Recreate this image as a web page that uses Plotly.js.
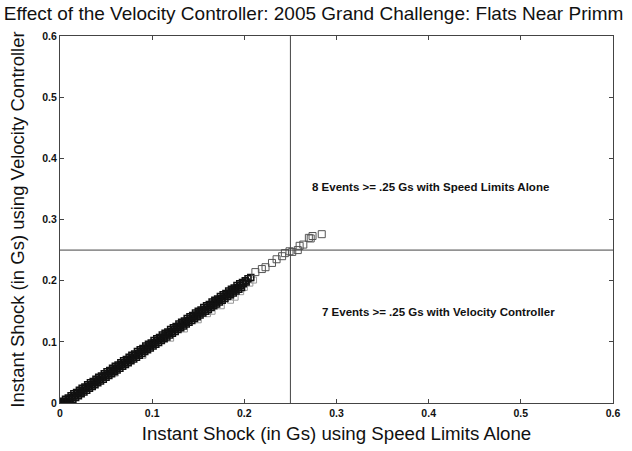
<!DOCTYPE html>
<html>
<head>
<meta charset="utf-8">
<script src="https://cdn.plot.ly/plotly-3.0.1.min.js"></script>
<style>html,body{margin:0;padding:0;background:#fff;}#chart{width:632px;height:451px;}</style>
</head>
<body>
<div id="chart"></div>
<script>
// Dense band of events: upper edge (controller ~= speed limits alone)
const bandAX = [0.000,0.003,0.006,0.009,0.012,0.015,0.018,0.021,0.024,0.027,0.030,0.033,0.036,0.039,0.042,0.045,0.048,0.051,0.054,0.057,0.060,0.063,0.066,0.069,0.072,0.075,0.078,0.081,0.084,0.087,0.090,0.093,0.096,0.099,0.102,0.105,0.108,0.111,0.114,0.117,0.120,0.123,0.126,0.129,0.132,0.135,0.138,0.141,0.144,0.147,0.150,0.153,0.156,0.159,0.162,0.165,0.168,0.171,0.174,0.177,0.180,0.183,0.186,0.189,0.192,0.195,0.198,0.201,0.204,0.207];
const bandAY = [0.000,0.003,0.006,0.008,0.012,0.015,0.017,0.021,0.024,0.026,0.030,0.033,0.035,0.039,0.042,0.044,0.048,0.051,0.053,0.057,0.060,0.062,0.066,0.069,0.071,0.075,0.078,0.080,0.084,0.087,0.089,0.093,0.096,0.098,0.102,0.105,0.107,0.111,0.114,0.116,0.120,0.123,0.125,0.129,0.132,0.134,0.138,0.141,0.143,0.147,0.150,0.152,0.156,0.159,0.161,0.165,0.168,0.170,0.174,0.177,0.179,0.183,0.186,0.188,0.192,0.195,0.197,0.200,0.203,0.205];
// Middle of the band
const bandBX = [0.001,0.004,0.007,0.010,0.013,0.016,0.019,0.022,0.025,0.028,0.031,0.034,0.037,0.040,0.043,0.046,0.049,0.052,0.055,0.058,0.061,0.064,0.067,0.070,0.073,0.076,0.079,0.082,0.085,0.088,0.091,0.094,0.097,0.100,0.103,0.106,0.109,0.112,0.115,0.118,0.121,0.124,0.127,0.130,0.133,0.136,0.139,0.142,0.145,0.148,0.151,0.154,0.157,0.160,0.163,0.166,0.169,0.172,0.175,0.178,0.181,0.184,0.187,0.190,0.193,0.196,0.199,0.202];
const bandBY = [0.000,0.000,0.003,0.006,0.009,0.012,0.015,0.018,0.021,0.024,0.027,0.030,0.033,0.036,0.039,0.042,0.045,0.048,0.051,0.054,0.057,0.060,0.063,0.066,0.069,0.072,0.075,0.078,0.081,0.084,0.087,0.090,0.093,0.096,0.099,0.102,0.105,0.108,0.111,0.114,0.117,0.120,0.123,0.126,0.129,0.132,0.135,0.138,0.141,0.144,0.147,0.150,0.153,0.156,0.159,0.162,0.165,0.168,0.171,0.174,0.177,0.180,0.183,0.186,0.189,0.192,0.195,0.198];
// Lower edge of the band
const bandCX = [0.002,0.005,0.008,0.011,0.014,0.017,0.020,0.023,0.026,0.029,0.032,0.035,0.038,0.041,0.044,0.047,0.050,0.053,0.056,0.059,0.062,0.065,0.068,0.071,0.074,0.077,0.080,0.083,0.086,0.089,0.092,0.095,0.098,0.101,0.104,0.107,0.110,0.113,0.116,0.119,0.122,0.125,0.128,0.131,0.134,0.137,0.140,0.143,0.146,0.149,0.152,0.155,0.158,0.161,0.164,0.167,0.170,0.173,0.176,0.179,0.182,0.185,0.188,0.191,0.194,0.197];
const bandCY = [0.000,0.000,0.000,0.003,0.006,0.009,0.012,0.015,0.018,0.021,0.024,0.027,0.030,0.033,0.036,0.039,0.042,0.045,0.048,0.051,0.054,0.057,0.060,0.063,0.066,0.069,0.072,0.075,0.078,0.081,0.084,0.087,0.090,0.093,0.096,0.099,0.102,0.105,0.108,0.111,0.114,0.117,0.120,0.123,0.126,0.129,0.132,0.135,0.138,0.141,0.144,0.147,0.150,0.153,0.156,0.159,0.162,0.165,0.168,0.171,0.174,0.177,0.180,0.183,0.186,0.189];
// Lighter fringe below the band
const fringeX = [0.060,0.090,0.120,0.135,0.150,0.160,0.165,0.175,0.185,0.190,0.196,0.200,0.206,0.210];
const fringeY = [0.049,0.078,0.106,0.121,0.136,0.146,0.150,0.159,0.168,0.173,0.182,0.189,0.196,0.201];
// Sparse high-shock events
const topX = [0.212,0.219,0.223,0.230,0.235,0.241,0.244,0.249,0.252,0.258,0.260,0.264,0.270,0.272,0.274,0.284];
const topY = [0.214,0.219,0.222,0.229,0.235,0.240,0.245,0.248,0.247,0.250,0.257,0.259,0.270,0.269,0.273,0.276];

const xTicks = [0,0.1,0.2,0.3,0.4,0.5,0.6];
const xTickText = ['0','0.1','0.2','0.3','0.4','0.5','0.6'];
const yTicks = [0,0.1,0.2,0.3,0.4,0.5,0.6];
const yTickText = ['0','0.1','0.2','0.3','0.4','0.5','0.6'];
const threshold = 0.25;
const noteUpper = '8 Events >= .25 Gs with Speed Limits Alone';
const noteLower = '7 Events >= .25 Gs with Velocity Controller';

const mk = (c, s, w) => ({symbol:'square-open', size:s, color:c, line:{width:w, color:c}});
const traces = [
  {x: fringeX, y: fringeY, type:'scatter', mode:'markers', marker: mk('#999', 6, 1), hoverinfo:'none'},
  {x: bandCX, y: bandCY, type:'scatter', mode:'markers', marker: mk('#111', 6, 1.5), hoverinfo:'none'},
  {x: bandBX, y: bandBY, type:'scatter', mode:'markers', marker: mk('#111', 6, 1.5), hoverinfo:'none'},
  {x: bandAX, y: bandAY, type:'scatter', mode:'markers', marker: mk('#111', 6, 1.5), hoverinfo:'none'},
  {x: topX, y: topY, type:'scatter', mode:'markers', marker: mk('#555', 7, 1), hoverinfo:'none'}
];

const fam = 'Liberation Sans, Arial, sans-serif';
const axisFont = {family:fam, size:10.5, color:'#111', weight:'bold'};
const layout = {
  width:632, height:451,
  margin:{l:60, r:19, t:36, b:48},
  paper_bgcolor:'#fff', plot_bgcolor:'#fff',
  showlegend:false,
  title:{text:'Effect of the Velocity Controller: 2005 Grand Challenge: Flats Near Primm',
    x:0.006, xanchor:'left', xref:'container', y:0.971, yanchor:'middle', yref:'container',
    font:{family:fam, size:19, color:'#111'}},
  xaxis:{range:[0,0.6], tickvals:xTicks, ticktext:xTickText, ticks:'inside', ticklen:4,
    tickcolor:'#444', showline:true, linecolor:'#444', linewidth:1, mirror:'ticks',
    showgrid:false, zeroline:false, tickfont:axisFont,
    title:{text:'Instant Shock (in Gs) using Speed Limits Alone', standoff:9,
      font:{family:fam, size:18.7, color:'#111'}}},
  yaxis:{range:[0,0.6], tickvals:yTicks, ticktext:yTickText, ticks:'inside', ticklen:4,
    tickcolor:'#444', showline:true, linecolor:'#444', linewidth:1, mirror:'ticks',
    showgrid:false, zeroline:false, tickfont:axisFont,
    title:{text:'Instant Shock (in Gs) using Velocity Controller', standoff:12,
      font:{family:fam, size:18.5, color:'#111'}}},
  shapes:[
    {type:'line', xref:'x', yref:'y', x0:threshold, x1:threshold, y0:0, y1:0.6, line:{color:'#444', width:1}},
    {type:'line', xref:'x', yref:'y', x0:0, x1:0.6, y0:threshold, y1:threshold, line:{color:'#444', width:1}}
  ],
  annotations:[
    {x:0.271, y:0.353, xref:'x', yref:'y', xanchor:'left', yanchor:'middle', showarrow:false,
     text:noteUpper, font:{family:fam, size:11.5, color:'#111', weight:'bold'}},
    {x:0.282, y:0.149, xref:'x', yref:'y', xanchor:'left', yanchor:'middle', showarrow:false,
     text:noteLower, font:{family:fam, size:11.5, color:'#111', weight:'bold'}}
  ]
};
Plotly.newPlot('chart', traces, layout, {displayModeBar:false, staticPlot:true});
</script>
</body>
</html>
